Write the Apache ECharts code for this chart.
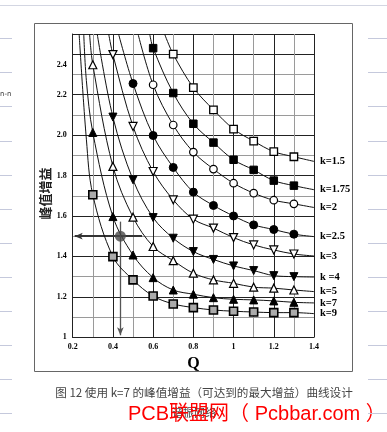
<!DOCTYPE html>
<html><head><meta charset="utf-8">
<script src="https://cdn.jsdelivr.net/npm/echarts@6/dist/echarts.min.js"></script>
<style>html,body{margin:0;padding:0;background:#fff;}#c{width:387px;height:432px;}</style>
</head><body><div id="c"></div>
<script>
// ---- data (Q, peak gain) ----
const kNames = ['k=1.5','k=1.75','k=2','k=2.5','k=3','k =4','k=5','k=7','k=9'];
const curveK1_5  = [[0.657,2.50],[0.7,2.40],[0.8,2.235],[0.9,2.125],[1.0,2.03],[1.1,1.97],[1.2,1.918],[1.3,1.893],[1.4,1.87]];
const curveK1_75 = [[0.583,2.50],[0.6,2.43],[0.7,2.208],[0.8,2.056],[0.9,1.963],[1.0,1.878],[1.1,1.828],[1.2,1.775],[1.3,1.75],[1.4,1.73]];
const curveK2    = [[0.525,2.50],[0.6,2.249],[0.7,2.05],[0.8,1.916],[0.9,1.832],[1.0,1.762],[1.1,1.713],[1.2,1.678],[1.3,1.66],[1.4,1.642]];
const curveK2_5  = [[0.428,2.50],[0.5,2.255],[0.6,1.998],[0.7,1.84],[0.8,1.718],[0.9,1.652],[1.0,1.60],[1.1,1.556],[1.2,1.533],[1.3,1.51],[1.4,1.498]];
const curveK3    = [[0.379,2.50],[0.4,2.398],[0.5,2.043],[0.6,1.82],[0.7,1.68],[0.8,1.584],[0.9,1.54],[1.0,1.493],[1.1,1.457],[1.2,1.432],[1.3,1.412],[1.4,1.402]];
const curveK4    = [[0.322,2.50],[0.4,2.089],[0.5,1.779],[0.6,1.592],[0.7,1.49],[0.8,1.424],[0.9,1.385],[1.0,1.353],[1.1,1.33],[1.2,1.305],[1.3,1.30],[1.4,1.298]];
const curveK5    = [[0.284,2.50],[0.3,2.348],[0.4,1.845],[0.5,1.594],[0.6,1.449],[0.7,1.379],[0.8,1.317],[0.9,1.284],[1.0,1.267],[1.1,1.248],[1.2,1.243],[1.3,1.234],[1.4,1.226]];
const curveK7    = [[0.255,2.50],[0.268,2.27],[0.3,2.013],[0.4,1.597],[0.5,1.407],[0.6,1.295],[0.7,1.234],[0.8,1.213],[0.9,1.196],[1.0,1.188],[1.1,1.185],[1.2,1.18],[1.3,1.173],[1.4,1.17]];
const curveK9    = [[0.232,2.50],[0.268,1.98],[0.3,1.705],[0.4,1.399],[0.5,1.284],[0.6,1.204],[0.7,1.165],[0.8,1.147],[0.9,1.135],[1.0,1.129],[1.1,1.125],[1.2,1.122],[1.3,1.122],[1.4,1.117]];
const curves = [curveK1_5, curveK1_75, curveK2, curveK2_5, curveK3, curveK4, curveK5, curveK7, curveK9];
const designPoint = [0.437, 1.5];
const hArrow = [[0.545, 1.5], [0.21, 1.5]];
const vArrow = [[0.437, 1.572], [0.437, 1.01]];
const xTicks = ['0.2','0.4','0.6','0.8','1','1.2','1.4'];
const yTicks = ['1','1.2','1.4','1.6','1.8','2.0','2.2','2.4'];
const yTitle = '峰值增益';
const caption = '图 12 使用 k=7 的峰值增益（可达到的最大增益）曲线设计';
const watermark = 'PCB联盟网（ Pcbbar.com ）';

// ---- styles ----
const markStyles = [
  {symbol:'rect', size:7.5, fill:'#fff', rot:0, bw:1.3},
  {symbol:'rect', size:7.5, fill:'#000', rot:0, bw:1},
  {symbol:'circle', size:7.5, fill:'#fff', rot:0, bw:1.2},
  {symbol:'circle', size:8, fill:'#000', rot:0, bw:1},
  {symbol:'triangle', size:8, fill:'#fff', rot:180, bw:1.2},
  {symbol:'triangle', size:8, fill:'#000', rot:180, bw:1},
  {symbol:'triangle', size:8, fill:'#fff', rot:0, bw:1.2},
  {symbol:'triangle', size:8, fill:'#000', rot:0, bw:1},
  {symbol:'rect', size:8, fill:'#ababab', rot:0, bw:1.6}
];
const serif = 'Liberation Serif';
const isMarked = x => Math.abs(x*10 - Math.round(x*10)) < 1e-6 && x < 1.35;

const series = curves.map((pts, i) => {
  const s = markStyles[i];
  return {
    type:'line', name:kNames[i], smooth:0.35, z:2+i,
    data: pts.map(p => isMarked(p[0]) ? {value:p} : {value:p, symbol:'none'}),
    symbol:s.symbol, symbolSize:s.size, symbolRotate:s.rot,
    showSymbol:true, showAllSymbol:true, clip:true,
    lineStyle:{color:'#111', width:1},
    itemStyle:{color:s.fill, borderColor:'#000', borderWidth:s.bw},
    emphasis:{disabled:true},
    endLabel:{show:true, formatter:kNames[i], distance:6, color:'#000',
      fontFamily:serif, fontWeight:'bold', fontSize:10.5}
  };
});
series.push({
  type:'scatter', z:20, data:[designPoint], symbol:'circle', symbolSize:11,
  itemStyle:{color:'#4a4a4a'}, emphasis:{disabled:true},
  markLine:{
    silent:true, symbol:['none','arrow'], symbolSize:[5,8], label:{show:false},
    animation:false, z:1,
    data:[
      [{coord:hArrow[0], lineStyle:{color:'#333', width:1.8, type:'solid'}}, {coord:hArrow[1]}],
      [{coord:vArrow[0], lineStyle:{color:'#555', width:1.3, type:'solid'}}, {coord:vArrow[1]}]
    ]
  }
});

const xGridColors = Array.from({length:13}, (_, i) => i % 2 ? '#9a9a9a' : '#222');
const yGridColors = Array.from({length:16}, (_, i) => (i % 2 && i !== 15) ? '#9a9a9a' : '#222');

const decoY = [38,72,106,141,175,209,243,277,311,345,379,413];
const graphics = [
  {type:'line', shape:{x1:0,y1:5.5,x2:387,y2:5.5}, style:{stroke:'#d3d6e2', lineWidth:1}, silent:true},
  {type:'rect', shape:{x:34.5,y:23.5,width:318,height:348}, style:{fill:'none', stroke:'#666', lineWidth:1}, silent:true},
  {type:'text', x:0, y:91, style:{text:'n-n', fontSize:7, fill:'#333', fontFamily:'DejaVu Sans'}, silent:true},
  {type:'text', x:45.5, y:193.5, rotation:Math.PI/2, style:{text:yTitle, fontSize:13, fontWeight:'bold', fill:'#222', fontFamily:'Noto Sans CJK SC', align:'center', verticalAlign:'middle'}, silent:true},
  {type:'text', x:204, y:393, style:{text:caption, fontSize:11.6, fill:'#444', fontFamily:'Noto Sans CJK SC', align:'center', verticalAlign:'middle'}, silent:true},
  {type:'text', x:172, y:413, style:{text:'谐振网络', fontSize:11, fill:'#444', fontFamily:'Noto Sans CJK SC', verticalAlign:'middle'}, silent:true},
  {type:'text', x:128, y:414, style:{text:watermark, fontSize:20, fill:'#ff0000', fontFamily:'Liberation Sans, Noto Sans CJK SC', verticalAlign:'middle'}, silent:true}
];
decoY.forEach(y => {
  graphics.push({type:'line', shape:{x1:0,y1:y+0.5,x2:12,y2:y+0.5}, style:{stroke:'#c5c9dc', lineWidth:1}, silent:true});
  graphics.push({type:'line', shape:{x1:368,y1:y+0.5,x2:387,y2:y+0.5}, style:{stroke:'#c5c9dc', lineWidth:1}, silent:true});
});

const labelFont = {fontFamily:serif, fontWeight:'bold', fontSize:8, color:'#000'};
const option = {
  animation:false,
  backgroundColor:'#fff',
  grid:{left:72.7, right:73, top:34, bottom:94.7, show:false},
  xAxis:{
    type:'value', min:0.2, max:1.4, interval:0.1,
    name:'Q', nameLocation:'middle', nameGap:17,
    nameTextStyle:{fontFamily:serif, fontWeight:'bold', fontSize:16, color:'#000'},
    axisLine:{show:true, lineStyle:{color:'#222', width:1}},
    axisTick:{show:false},
    splitLine:{show:true, lineStyle:{color:xGridColors, width:1}},
    axisLabel:Object.assign({margin:6, formatter:v => {
      const r = Math.round(v*10); if (r % 2) return '';
      return xTicks[(r-2)/2] || '';
    }}, labelFont)
  },
  yAxis:{
    type:'value', min:1, max:2.5, interval:0.1,
    axisLine:{show:true, lineStyle:{color:'#222', width:1}},
    axisTick:{show:false},
    splitLine:{show:true, lineStyle:{color:yGridColors, width:1}},
    axisLabel:Object.assign({margin:6, formatter:v => {
      const r = Math.round(v*10); if (r % 2 || r > 24) return '';
      const t = yTicks[(r-10)/2] || '';
      return r === 24 ? '{d|' + t + '}' : t;
    }, rich:{d:Object.assign({padding:[22,0,0,0]}, labelFont)}}, labelFont)
  },
  graphic:graphics,
  series:series
};
const chart = echarts.init(document.getElementById('c'), null, {renderer:'canvas'});
chart.setOption(option);
</script>
</body></html>
